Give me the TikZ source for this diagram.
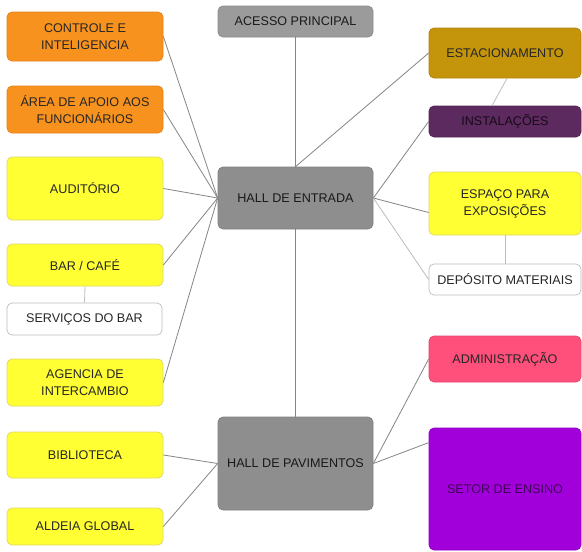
\documentclass[tikz,border=0pt]{standalone}
\usepackage{fontspec}
\setmainfont{Liberation Sans}
\definecolor{orng}{HTML}{F7921E}
\definecolor{orngb}{HTML}{E8821A}
\definecolor{hub}{HTML}{8E8E8E}
\definecolor{hubtop}{HTML}{9B9B9B}
\definecolor{gold}{HTML}{C4940A}
\definecolor{plum}{HTML}{5C2A5E}
\definecolor{yel}{HTML}{FFFF33}
\definecolor{yelb}{HTML}{DED66A}
\definecolor{pinkr}{HTML}{FF4F7B}
\definecolor{viol}{HTML}{A100DA}
\definecolor{txt}{HTML}{262626}
\definecolor{ln}{HTML}{858585}
\definecolor{lnl}{HTML}{BDBDBD}
\tikzset{
  box/.style={rectangle, rounded corners=5pt, align=center, inner sep=2pt,
    font=\fontsize{12.6}{17}\selectfont, text=txt, line width=0.7pt},
  orangebox/.style={box, fill=orng, draw=orngb},
  yellowbox/.style={box, fill=yel, draw=yelb},
  whitebox/.style={box, fill=white, draw=lnl},
  hubbox/.style={box, fill=hub, draw=hub!90!black, text=black!90},
  conn/.style={draw=ln, line width=0.8pt},
  connl/.style={draw=lnl, line width=0.8pt}
}
\begin{document}
\begin{tikzpicture}[x=1pt,y=-1pt]
\useasboundingbox[fill=white] (0,0) rectangle (582,552);
% left column
\node[orangebox, minimum width=156pt, minimum height=49pt] (ctrl) at (85,36.5) {CONTROLE E\\INTELIGENCIA};
\node[orangebox, minimum width=156pt, minimum height=47pt] (apoio) at (85,109.5) {ÁREA DE APOIO AOS\\FUNCIONÁRIOS};
\node[yellowbox, minimum width=156pt, minimum height=63pt] (aud) at (85,188.5) {AUDITÓRIO};
\node[yellowbox, minimum width=156pt, minimum height=42pt] (bar) at (85,265) {BAR / CAFÉ};
\node[whitebox, minimum width=155pt, minimum height=32pt] (serv) at (84.5,319) {SERVIÇOS DO BAR};
\node[yellowbox, minimum width=156pt, minimum height=47pt] (agen) at (85,382.5) {AGENCIA DE\\INTERCAMBIO};
\node[yellowbox, minimum width=156pt, minimum height=46pt] (bib) at (85,455) {BIBLIOTECA};
\node[yellowbox, minimum width=156pt, minimum height=37pt] (ald) at (85,526.5) {ALDEIA GLOBAL};
% center column
\node[hubbox, fill=hubtop, draw=hubtop!90!black, minimum width=155pt, minimum height=31pt] (acesso) at (295.5,21.5) {ACESSO PRINCIPAL};
\node[hubbox, minimum width=155pt, minimum height=62pt] (hallE) at (295.5,198) {HALL DE ENTRADA};
\node[hubbox, minimum width=155pt, minimum height=93pt] (hallP) at (295.5,463.5) {HALL DE PAVIMENTOS};
% right column
\node[box, fill=gold, draw=gold!90!black, minimum width=152pt, minimum height=50pt] (estac) at (505,53) {ESTACIONAMENTO};
\node[box, fill=plum, draw=plum!90!black, text=black!75!plum, minimum width=152pt, minimum height=31pt] (inst) at (505,121.5) {INSTALAÇÕES};
\node[yellowbox, minimum width=152pt, minimum height=63pt] (esp) at (505,203.5) {ESPAÇO PARA\\EXPOSIÇÕES};
\node[whitebox, minimum width=152pt, minimum height=31pt] (dep) at (505,279.5) {DEPÓSITO MATERIAIS};
\node[box, fill=pinkr, draw=pinkr!90!black, minimum width=152pt, minimum height=46pt] (adm) at (505,359) {ADMINISTRAÇÃO};
\node[box, fill=viol, draw=viol!90!black, text=black!60!viol, minimum width=152pt, minimum height=122pt] (setor) at (505,489) {SETOR DE ENSINO};
% connectors
\draw[conn] (acesso.south) -- (hallE.north);
\draw[conn] (hallE.south) -- (hallP.north);
\draw[conn] (ctrl.east) -- (hallE.west);
\draw[conn] (apoio.east) -- (hallE.west);
\draw[conn] (aud.east) -- (hallE.west);
\draw[conn] (bar.east) -- (hallE.west);
\draw[conn] (agen.east) -- (hallE.west);
\draw[connl] (bar.south) -- (serv.north);
\draw[conn] (estac.west) -- (hallE.north);
\draw[connl] ([xshift=2pt]estac.south) -- ([xshift=-13pt]inst.north);
\draw[conn] (inst.west) -- (hallE.east);
\draw[conn] ([yshift=-9pt]esp.west) -- (hallE.east);
\draw[connl] (dep.west) -- (hallE.east);
\draw[connl] (esp.south) -- (dep.north);
\draw[conn] (bib.east) -- (hallP.west);
\draw[conn] (ald.east) -- (hallP.west);
\draw[conn] (adm.west) -- (hallP.east);
\draw[conn] ([yshift=-15pt]setor.north west) -- (hallP.east);
\end{tikzpicture}
\end{document}
